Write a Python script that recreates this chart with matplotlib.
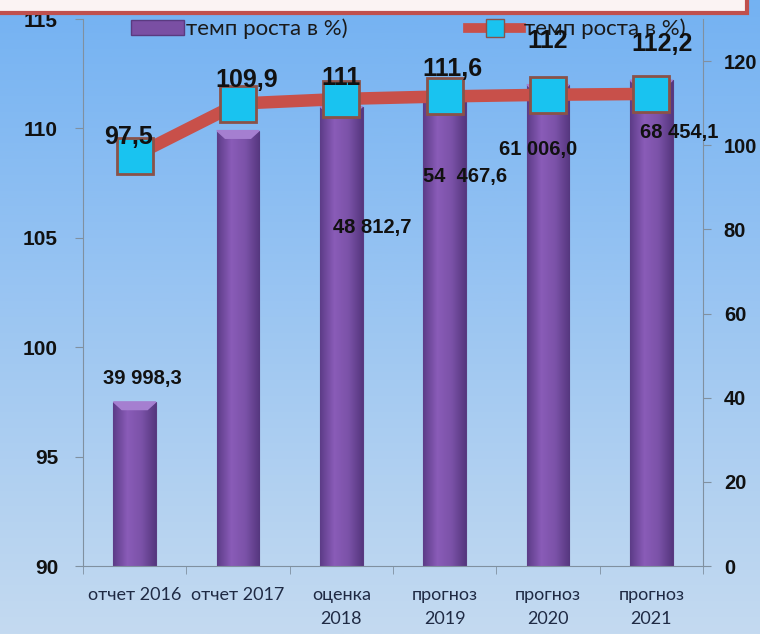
import numpy as np
import matplotlib.pyplot as plt
from matplotlib.patches import Rectangle
from matplotlib.lines import Line2D
from matplotlib.colors import LinearSegmentedColormap

plt.rcParams['font.family'] = ['Lato', 'DejaVu Sans']
NUM_FONT = ['Liberation Sans', 'DejaVu Sans']

# dados do grafico
categorias = ['отчет 2016', 'отчет 2017', 'оценка\n2018', 'прогноз\n2019', 'прогноз\n2020', 'прогноз\n2021']
temp_barras = [97.5, 109.9, 111, 111.6, 112, 112.2]
temp_linha = [97.5, 109.9, 111, 111.6, 112, 112.2]
rotulos_linha = ['97,5', '109,9', '111', '111,6', '112', '112,2']
rotulos_barras = ['39 998,3', '48 812,7', '54  467,6', '61 006,0', '68 454,1']
# posicoes dos rotulos das barras (indice da categoria, valor no eixo direito)
pos_barras_x = [0.07, 2.3, 3.2, 3.9, 5.27]
pos_barras_y = [44.5, 80.5, 92.5, 99.0, 103.0]
pos_linha_dx = [-0.06, 0.08, 0.0, 0.08, 0.0, 0.1]
pos_linha_y = [102.0, 115.5, 116.0, 118.0, 124.8, 124.0]

fig = plt.figure(figsize=(7.6, 6.34), dpi=100)

# fundo em degrade
bg = fig.add_axes([0, 0, 1, 1], zorder=-10)
grad = np.linspace(0, 1, 256).reshape(-1, 1)
cmap_bg = LinearSegmentedColormap.from_list('bg', ['#74b2f2', '#9cc6f2', '#c4daf0'])
bg.imshow(grad, aspect='auto', cmap=cmap_bg, extent=[0, 1, 0, 1])
bg.axis('off')

# caixa vermelha no topo
fig.patches.append(Rectangle((-0.01, (634 - 13) / 634), 747 / 760 + 0.01, 0.1,
                             transform=fig.transFigure, facecolor='#fbf3f3',
                             edgecolor='#c0504d', lw=3, zorder=5))

ax = fig.add_axes([83 / 760, 68 / 634, 620 / 760, 547 / 634])
ax.patch.set_alpha(0)
x = np.arange(len(categorias))

bars = ax.bar(x, [v - 90 for v in temp_barras], bottom=90, width=0.41,
              color='#7a4fa3', edgecolor='#5a3a80', lw=0.8, zorder=2)
cmap_bar = LinearSegmentedColormap.from_list('bar', ['#5d3c88', '#8a5cb8', '#7b52a8', '#56377f'])
hgrad = np.linspace(0, 1, 64).reshape(1, -1)
for b in bars:
    x0, y0 = b.get_x(), b.get_y()
    w, h = b.get_width(), b.get_height()
    im = ax.imshow(hgrad, cmap=cmap_bar, aspect='auto', extent=[x0, x0 + w, y0, y0 + h], zorder=2)
    im.set_clip_path(b)
    ax.fill([x0, x0 + w, x0 + w * 0.8, x0 + w * 0.2], [y0 + h, y0 + h, y0 + h - 0.35, y0 + h - 0.35],
            color='#a57fd0', zorder=3)

ax.set_xlim(-0.5, 5.5)
ax.set_ylim(90, 115)
ax.set_yticks([90, 95, 100, 105, 110, 115])
ax.set_xticks(x)
ax.set_xticklabels(categorias, fontsize=13, color='#1f2a44', linespacing=1.6)
ax.set_yticklabels(['90', '95', '100', '105', '110', '115'], fontsize=15,
                   fontweight='bold', family=NUM_FONT)
ax.set_xticks(np.arange(-0.5, 6, 1), minor=True)
ax.tick_params(axis='x', which='major', length=0, pad=15)
ax.tick_params(axis='x', which='minor', length=6, color='#8090a0')
ax.tick_params(axis='y', length=6, color='#8090a0', labelcolor='#111111', pad=12)
for s in ['top', 'right']:
    ax.spines[s].set_visible(False)
ax.spines['left'].set_color('#8090a0')
ax.spines['bottom'].set_color('#8090a0')

ax2 = ax.twinx()
ax2.set_ylim(0, 130)
ax2.set_yticks([0, 20, 40, 60, 80, 100, 120])
ax2.set_yticklabels(['0', '20', '40', '60', '80', '100', '120'], fontsize=14.5,
                    fontweight='bold', family=NUM_FONT)
ax2.plot(x, temp_linha, color='#c8504a', lw=9, zorder=3, solid_capstyle='butt')
ax2.plot(x, temp_linha, ls='none', marker='s', markersize=26, markerfacecolor='#19c3f0',
         markeredgecolor='#8a5248', markeredgewidth=2, zorder=4)
for s in ['top', 'left', 'bottom']:
    ax2.spines[s].set_visible(False)
ax2.spines['right'].set_color('#8090a0')
ax2.tick_params(axis='y', length=6, color='#8090a0', labelcolor='#111111', pad=9)

for i, lab in enumerate(rotulos_linha):
    ax2.text(x[i] + pos_linha_dx[i], pos_linha_y[i], lab, ha='center', va='center',
             fontsize=18, fontweight='bold', family=NUM_FONT, color='#111111', zorder=6)
for i, lab in enumerate(rotulos_barras):
    ax2.text(pos_barras_x[i], pos_barras_y[i], lab, ha='center', va='center',
             fontsize=14.5, fontweight='bold', family=NUM_FONT, color='#111111', zorder=6)

# legenda
h_bar = Rectangle((0, 0), 1, 1, facecolor='#7a4fa3', edgecolor='#5a3a80')
h_line = Line2D([], [], color='#c8504a', lw=7, marker='s', markersize=13,
                markerfacecolor='#19c3f0', markeredgecolor='#8a5248')
ax2.legend([h_bar, h_line], ['темп роста в %)', 'темп роста в %)'], ncol=2, frameon=False,
           loc='upper left', bbox_to_anchor=(0.045, 1.037), fontsize=16,
           columnspacing=5.4, handlelength=2.4, handletextpad=0.1, labelcolor='#1a1a1a')

fig.savefig('out.png', dpi=100)
